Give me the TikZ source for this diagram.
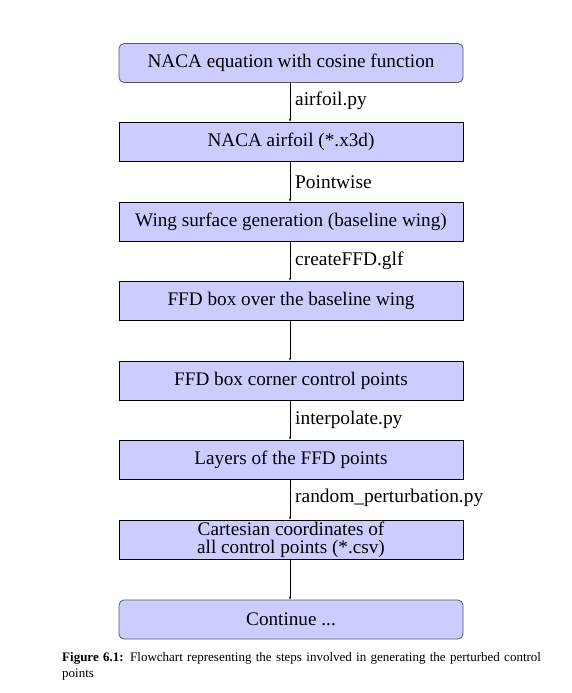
\documentclass[tikz,border=0pt]{standalone}
\usepackage{fontspec}
\setmainfont{Liberation Serif}
\usetikzlibrary{arrows.meta}
\definecolor{boxfill}{RGB}{204,204,255}
\begin{document}
\begin{tikzpicture}[x=1pt,y=-1pt,
  stepbox/.style={draw=black,fill=boxfill,minimum width=344pt,minimum height=39pt,inner sep=0pt,line width=0.8pt,font=\fontsize{19.2}{18}\selectfont,align=center},
  endbox/.style={stepbox,draw=black!65,rounded corners=5pt},
  conn/.style={-{Stealth[length=3pt,width=2.2pt]},line width=0.6pt},
  lbl/.style={anchor=west,font=\fontsize{19.4}{19}\selectfont,inner sep=0pt}]
\useasboundingbox (0,0) rectangle (572,693);
\node[endbox] (n1) at (291,63) {NACA equation with cosine function};
\node[stepbox] (n2) at (291,141.5) {NACA airfoil (*.x3d)};
\node[stepbox] (n3) at (291,221.5) {Wing surface generation (baseline wing)};
\node[stepbox] (n4) at (291,300.5) {FFD box over the baseline wing};
\node[stepbox] (n5) at (291,380.5) {FFD box corner control points};
\node[stepbox] (n6) at (291,459.5) {Layers of the FFD points};
\node[stepbox] (n7) at (291,539.5) {Cartesian coordinates of\\all control points (*.csv)};
\node[endbox] (n8) at (291,619.5) {Continue ...};
\foreach \a/\b in {n1/n2,n2/n3,n3/n4,n4/n5,n5/n6,n6/n7,n7/n8}
  \draw[conn] ([xshift=-1pt]\a.south) -- ([xshift=-1pt]\b.north);
\node[lbl] (l1) at (295,101) {airfoil.py};
\node[lbl] (l2) at (295,182) {Pointwise};
\node[lbl] (l3) at (295,261) {createFFD.glf};
\node[lbl] (l5) at (295,420) {interpolate.py};
\node[lbl] (l6) at (295,498) {random\_perturbation.py};
\node[anchor=north west,inner sep=0pt,text width=490pt,align=left,font=\fontsize{13}{16}\selectfont] (cap) at (62,652)
  {\textbf{Figure 6.1:} Flowchart representing the steps involved in generating the perturbed control points};
\end{tikzpicture}
\end{document}
